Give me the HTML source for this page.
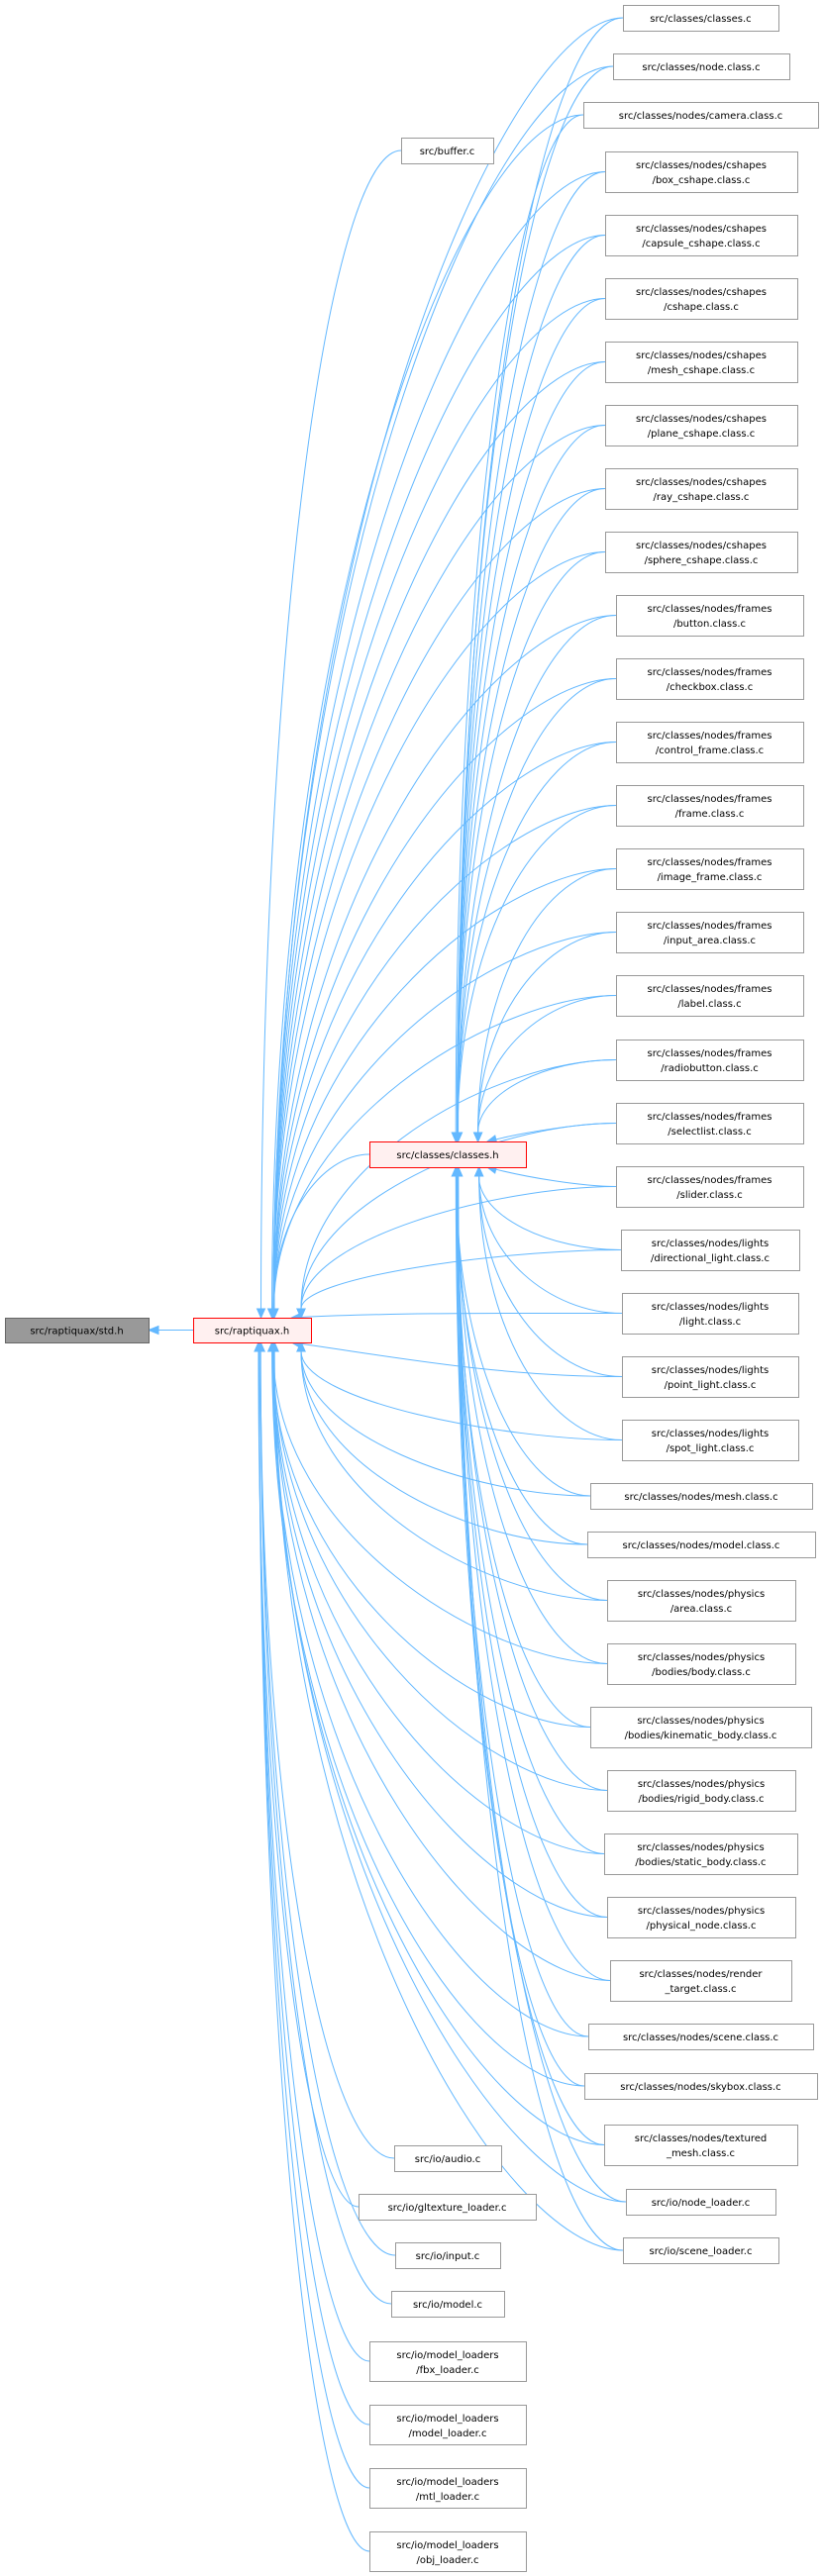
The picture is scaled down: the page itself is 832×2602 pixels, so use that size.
<!DOCTYPE html>
<html><head><meta charset="utf-8">
<style>
html,body{margin:0;padding:0;background:#fff;}
svg{display:block;}
text{font-family:"DejaVu Sans","Liberation Sans",sans-serif;font-size:10px;fill:#000;}
</style></head>
<body>
<svg id="g" width="832" height="2602" xmlns="http://www.w3.org/2000/svg"></svg>
<script>
const N={};
function add(id,x1,y1,x2,y2,lines,kind){N[id]={x1,y1,x2,y2,lines,kind};}
add('std',5,1331,150,1356,['src/raptiquax/std.h'],'gray');
add('rap',195,1331,314,1356,['src/raptiquax.h'],'red');
add('cls',373,1153,531,1179,['src/classes/classes.h'],'red');
add('buffer',405,139,498,165,['src/buffer.c']);
const right=[
['src/classes/classes.c',629,786,5,1],
['src/classes/node.class.c',619,797,54,1],
['src/classes/nodes/camera.class.c',589,826,103,1],
['src/classes/nodes/cshapes|/box_cshape.class.c',611,805,153,2],
['src/classes/nodes/cshapes|/capsule_cshape.class.c',611,805,217,2],
['src/classes/nodes/cshapes|/cshape.class.c',611,805,281,2],
['src/classes/nodes/cshapes|/mesh_cshape.class.c',611,805,345,2],
['src/classes/nodes/cshapes|/plane_cshape.class.c',611,805,409,2],
['src/classes/nodes/cshapes|/ray_cshape.class.c',611,805,473,2],
['src/classes/nodes/cshapes|/sphere_cshape.class.c',611,805,537,2],
['src/classes/nodes/frames|/button.class.c',622,811,601,2],
['src/classes/nodes/frames|/checkbox.class.c',622,811,665,2],
['src/classes/nodes/frames|/control_frame.class.c',622,811,729,2],
['src/classes/nodes/frames|/frame.class.c',622,811,793,2],
['src/classes/nodes/frames|/image_frame.class.c',622,811,857,2],
['src/classes/nodes/frames|/input_area.class.c',622,811,921,2],
['src/classes/nodes/frames|/label.class.c',622,811,985,2],
['src/classes/nodes/frames|/radiobutton.class.c',622,811,1050,2],
['src/classes/nodes/frames|/selectlist.class.c',622,811,1114,2],
['src/classes/nodes/frames|/slider.class.c',622,811,1178,2],
['src/classes/nodes/lights|/directional_light.class.c',627,807,1242,2],
['src/classes/nodes/lights|/light.class.c',628,806,1306,2],
['src/classes/nodes/lights|/point_light.class.c',628,806,1370,2],
['src/classes/nodes/lights|/spot_light.class.c',628,806,1434,2],
['src/classes/nodes/mesh.class.c',596,820,1498,1],
['src/classes/nodes/model.class.c',593,823,1547,1],
['src/classes/nodes/physics|/area.class.c',613,803,1596,2],
['src/classes/nodes/physics|/bodies/body.class.c',613,803,1660,2],
['src/classes/nodes/physics|/bodies/kinematic_body.class.c',596,819,1724,2],
['src/classes/nodes/physics|/bodies/rigid_body.class.c',613,803,1788,2],
['src/classes/nodes/physics|/bodies/static_body.class.c',610,805,1852,2],
['src/classes/nodes/physics|/physical_node.class.c',613,803,1916,2],
['src/classes/nodes/render|_target.class.c',616,799,1980,2],
['src/classes/nodes/scene.class.c',594,821,2044,1],
['src/classes/nodes/skybox.class.c',590,825,2094,1],
['src/classes/nodes/textured|_mesh.class.c',610,805,2146,2],
['src/io/node_loader.c',632,783,2211,1],
['src/io/scene_loader.c',629,786,2260,1]
];
const rightIds=[];
right.forEach((r,i)=>{const id='r'+i;rightIds.push(id);add(id,r[1],r[3],r[2],r[3]+(r[4]==1?26:41),r[0].split('|'));});
const io=[
['src/io/audio.c',398,506,2167,1],
['src/io/gltexture_loader.c',362,541,2216,1],
['src/io/input.c',399,505,2265,1],
['src/io/model.c',395,509,2314,1],
['src/io/model_loaders|/fbx_loader.c',373,531,2365,2],
['src/io/model_loaders|/model_loader.c',373,531,2429,2],
['src/io/model_loaders|/mtl_loader.c',373,531,2493,2],
['src/io/model_loaders|/obj_loader.c',373,531,2557,2]
];
const ioIds=[];
io.forEach((r,i)=>{const id='i'+i;ioIds.push(id);add(id,r[1],r[3],r[2],r[3]+(r[4]==1?26:40),r[0].split('|'));});

const svg=document.getElementById('g');
const NS='http://www.w3.org/2000/svg';
let edges='',heads='';
const C='#63b8ff';
function edge(s,t){
  const S=N[s],T=N[t];
  const sx=S.x1, sy=(S.y1+S.y2)/2;
  const cx=(T.x1+T.x2)/2, cy=(T.y1+T.y2)/2;
  const dy=sy-cy;
  let ex,ey,c1x,c1y,c2x,c2y;
  const h=(T.y2-T.y1)/2;
  if(Math.abs(dy)<h+60 && sx>T.x2){
    ex=T.x2; ey=cy+Math.max(-h+3,Math.min(h-3,dy*0.1));
    c1x=sx-(sx-ex)*0.4;c1y=sy;c2x=ex+(sx-ex)*0.4;c2y=ey;
    if(Math.abs(dy)>h){ex=T.x2-10+Math.max(0,0);ey=dy<0?T.y1:T.y2;ex=Math.min(T.x2-8,cx+40);c2x=ex+(sx-ex)*0.3;c2y=ey+(dy<0?-1:1)*Math.abs(dy)*0.3;}
  } else {
    const off=Math.max(-25,Math.min(35,(sx-cx)*0.06+ (dy<0?0:0)));
    ex=cx+off+(Math.abs(dy)<300? (sx-cx)*0.12:0); ex=Math.max(T.x1+10,Math.min(T.x2-10,ex));
    ey=dy<0?T.y1:T.y2;
    const d=Math.abs(sy-ey);
    c1x=sx-Math.min(120,(sx-ex)*0.5); c1y=sy;
    if(sx<=ex+20){c1x=sx-60;}
    c2x=ex; c2y=ey+(dy<0?-1:1)*d*0.6;
  }
  // arrow
  let vx=ex-c2x, vy=ey-c2y; const L=Math.hypot(vx,vy)||1; vx/=L; vy/=L;
  const bx=ex-vx*9, by=ey-vy*9;
  edges+=`<path d="M${sx},${sy} C${c1x},${c1y} ${c2x},${c2y} ${bx},${by}" fill="none" stroke="${C}" stroke-width="1"/>`;
  const px=-vy,py=vx;
  heads+=`<polygon points="${ex},${ey} ${bx+px*4},${by+py*4} ${bx-px*4},${by-py*4}" fill="${C}" stroke="${C}"/>`;
}
// std <- rap
edges+=`<path d="M195,1343.5 L160,1343.5" stroke="${C}" fill="none"/>`;
heads+=`<polygon points="150,1343.5 160,1339.5 160,1347.5" fill="${C}" stroke="${C}"/>`;
edge('buffer','rap');
edge('cls','rap');
rightIds.forEach(id=>{edge(id,'cls');edge(id,'rap');});
ioIds.forEach(id=>edge(id,'rap'));
let boxes='';
for(const id in N){
  const n=N[id];let fill='#fff',st='#999';
  if(n.kind=='gray'){fill='#999999';st='#666666';}
  if(n.kind=='red'){fill='#fff0f0';st='#ff0000';}
  boxes+=`<rect x="${n.x1+0.5}" y="${n.y1+0.5}" width="${n.x2-n.x1}" height="${n.y2-n.y1}" fill="${fill}" stroke="${st}" stroke-width="1"/>`;
  const mx=(n.x1+n.x2)/2;
  if(n.lines.length==1){boxes+=`<text x="${mx}" y="${(n.y1+n.y2)/2+4}" text-anchor="middle">${n.lines[0]}</text>`;}
  else{boxes+=`<text x="${mx}" y="${n.y1+17}" text-anchor="middle">${n.lines[0]}</text><text x="${mx}" y="${n.y1+32}" text-anchor="middle">${n.lines[1]}</text>`;}
}
svg.innerHTML=edges+heads+boxes;
</script>
</body></html>
